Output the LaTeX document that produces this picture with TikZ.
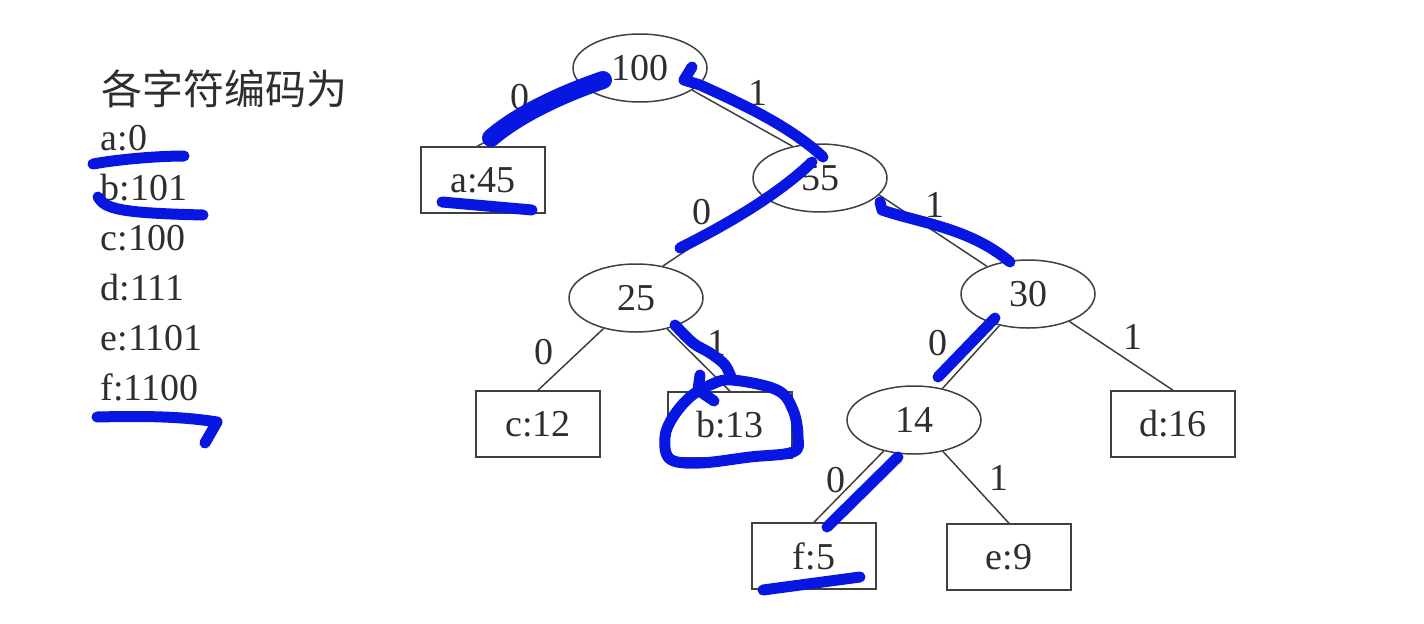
\documentclass[tikz,border=0pt]{standalone}
\usepackage{fontspec}
\setmainfont{Liberation Serif}
\newfontfamily\cjkfont{Noto Sans CJK SC}
\usetikzlibrary{shapes.geometric}
\definecolor{HuffInk}{gray}{0.18}
\definecolor{HuffLine}{gray}{0.25}
\definecolor{HuffPen}{RGB}{8,22,226}
\tikzset{
    huff/diagram/.style={
        font=\fontsize{19}{23}\selectfont,
        text=HuffInk,
        line width=0.75pt,
        every node/.style={inner sep=2pt}
    },
    huff/inner/.style={ellipse, draw=HuffLine, line width=0.75pt,
        minimum width=67pt, minimum height=34pt},
    huff/leaf/.style={rectangle, draw=HuffLine, line width=0.75pt,
        minimum width=62pt, minimum height=33pt},
    huff/edge/.style={draw=HuffLine, line width=0.75pt},
    huff/bit/.style={inner sep=0pt},
    huff/code/.style={anchor=base west, inner sep=0pt},
    huff/mark/.style={draw=HuffPen, line width=5.5pt, line cap=round, line join=round},
    huff/heavy/.style={huff/mark, line width=9pt}
}
\begin{document}
\begin{tikzpicture}[huff/diagram, x=0.5pt, y=0.5pt]
    \useasboundingbox (0,0) rectangle (1424,623);
    % code table
    \node[huff/code, font=\fontsize{20.5}{24}\cjkfont] (title) at (101,519) {各字符编码为};
    \foreach \t [count=\i] in {a:0,b:101,c:100,d:111,e:1101,f:1100} {
        \node[huff/code] (code\i) at (100,523-50*\i) {\t};
    }
    % tree
    \node[huff/inner] (n100) at (640,555) {100};
    \node[huff/leaf]  (a45)  at (483,443) {a:45};
    \node[huff/inner] (n55)  at (820,445) {55};
    \node[huff/inner] (n25)  at (636,325) {25};
    \node[huff/inner] (n30)  at (1028,329) {30};
    \node[huff/leaf]  (c12)  at (538,199) {c:12};
    \node[huff/leaf]  (b13)  at (730,198) {b:13};
    \node[huff/inner] (n14)  at (914,203) {14};
    \node[huff/leaf]  (d16)  at (1173,199) {d:16};
    \node[huff/leaf]  (f5)   at (814,67) {f:5};
    \node[huff/leaf]  (e9)   at (1009,66) {e:9};
    \draw[huff/edge] (n100.203) -- ([xshift=-3pt]a45.north);
    \draw[huff/edge] (n100.-23) -- (n55.131);
    \draw[huff/edge] (n55.200) -- (n25.50);
    \draw[huff/edge] (n55.-16) -- (n30.146);
    \draw[huff/edge] (n25) -- (c12.north);
    \draw[huff/edge] (n25) -- (b13.north);
    \draw[huff/edge] (n30) -- (n14);
    \draw[huff/edge] (n30) -- (d16.north);
    \draw[huff/edge] (n14) -- (f5.north);
    \draw[huff/edge] (n14) -- (e9.north);
    \foreach \x/\y/\b [count=\i] in {520/526/0,758/530/1,702/411/0,935/418/1,
        544/271/0,717/280/1,938/280/0,1133/286/1,836/143/0,999/145/1} {
        \node[huff/bit] (bit\i) at (\x,\y) {\b};
    }
    % pen marks
    \draw[huff/mark] (93,459) .. controls (120,464) and (160,467) .. (184,467);
    \draw[huff/mark] (98,426) .. controls (105,414) and (120,410) .. (203,408);
    \draw[huff/mark] (97,206) .. controls (140,207) and (180,207) .. (217,201) -- (205,180);
    \draw[huff/heavy] (603,543) .. controls (565,530) and (520,510) .. (491,485);
    \draw[huff/mark] (442,421) -- (532,413);
    \draw[huff/mark] (692,556) -- (684,543) -- (700,538)
        .. controls (740,520) and (790,497) .. (823,466);
    \draw[huff/mark] (812,461) .. controls (780,430) and (730,400) .. (680,375);
    \draw[huff/mark] (880,421) -- (882,413) .. controls (920,400) and (970,395) .. (1010,361);
    \draw[huff/mark] plot[smooth, tension=0.6] coordinates
        {(675,298) (693,280) (710,270) (725,258) (732,243)};
    \draw[huff/mark] plot[smooth cycle, tension=0.6] coordinates
        {(732,243) (777,233) (793,213) (798,186) (793,171) (750,166) (700,160)
         (670,164) (665,186) (673,206) (690,226) (710,238)};
    \draw[huff/mark] (700,248) -- (698,233) -- (714,222);
    \draw[huff/mark] (995,305) -- (938,246);
    \draw[huff/mark] (898,166) -- (827,96);
    \draw[huff/mark] (763,33) -- (860,46);
\end{tikzpicture}
\end{document}
